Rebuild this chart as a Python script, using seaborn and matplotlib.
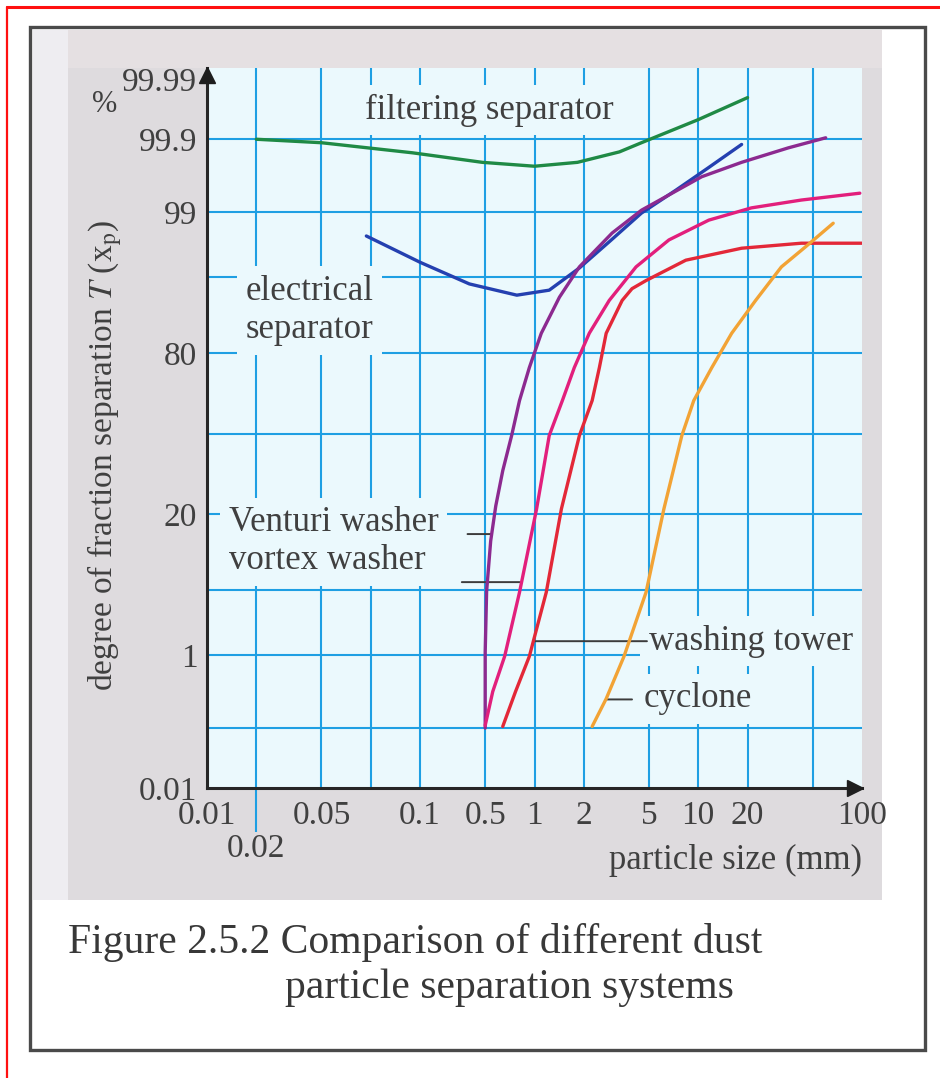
from statistics import NormalDist

import numpy as np
import pandas as pd
import seaborn as sns
import matplotlib.pyplot as plt
from matplotlib.patches import Rectangle
from matplotlib.lines import Line2D
from matplotlib.ticker import NullLocator

sns.set_theme(style="white")
plt.rcParams["font.family"] = ["Liberation Serif", "DejaVu Serif"]
plt.rcParams["mathtext.fontset"] = "stix"

# particle size (mm) and degree of separation (%)
size_filter = [0.02, 0.05, 0.18, 0.48, 1.0, 1.83, 3.3, 4.5, 10.0, 20.0]
sep_filter = [99.90, 99.887, 99.84, 99.78, 99.75, 99.78, 99.845, 99.887, 99.951, 99.979]

size_electric = [0.094, 0.2, 0.4, 0.78, 1.23, 1.88, 2.86, 4.5, 7.3, 11.6, 18.4]
sep_electric = [98.1, 96.4, 94.2, 92.7, 93.4, 95.9, 97.8, 98.97, 99.47, 99.74, 99.88]

size_venturi = [0.5, 0.5, 0.51, 0.54, 0.58, 0.64, 0.725, 0.81, 0.93, 1.1, 1.42, 1.88,
                2.98, 4.5, 10.5, 18.4, 35.5, 60.0]
sep_venturi = [0.1, 1.1, 4.9, 13.0, 22.4, 34.9, 49.2, 63.6, 75.6, 85.4, 92.4, 96.0,
               98.24, 99.05, 99.65, 99.78, 99.865, 99.905]

size_vortex = [0.5, 0.556, 0.657, 0.81, 1.03, 1.23, 1.48, 1.75, 2.16, 2.86, 4.17, 6.62,
               11.6, 21.1, 42.6, 97.0]
sep_vortex = [0.11, 0.34, 0.97, 4.8, 21.5, 49.2, 63.6, 75.6, 85.4, 91.9, 96.0, 97.9,
              98.75, 99.11, 99.29, 99.42]

size_tower = [0.64, 0.766, 0.93, 1.18, 1.46, 1.88, 2.25, 2.49, 2.74, 3.43, 3.94, 4.8,
              8.4, 18.4, 42.6, 100.0]
sep_tower = [0.106, 0.34, 0.97, 4.8, 21.5, 49.2, 63.6, 75.6, 85.4, 91.9, 93.6, 94.6,
             96.57, 97.42, 97.72, 97.72]

size_cyclone = [2.25, 2.74, 3.52, 4.8, 6.17, 7.94, 9.39, 12.1, 16.0, 22.4, 32.2, 45.0, 66.7]
sep_cyclone = [0.106, 0.27, 0.97, 4.8, 21.5, 49.2, 63.6, 75.6, 85.4, 91.9, 96.0, 97.49, 98.64]

systems = ["filtering", "electrical", "venturi", "vortex", "tower", "cyclone"]
colors = ["#1f8a45", "#2440b0", "#8c2a90", "#e21f7c", "#e32838", "#f2a335"]

grid_sizes = [0.02, 0.05, 0.1, 0.2, 0.5, 1, 2, 5, 10, 20, 50]
grid_seps = [0.1, 1, 5, 20, 50, 80, 95, 99, 99.9]

xtick_pos = [0.01, 0.05, 0.2, 0.5, 1, 2, 5, 10, 20, 100]
xtick_lab = ["0.01", "0.05", "0.1", "0.5", "1", "2", "5", "10", "20", "100"]
ytick_pos = [0.01, 1, 20, 80, 99, 99.9, 99.99]
ytick_lab = ["0.01", "1", "20", "80", "99", "99.9", "99.99"]

label_text = ["filtering separator", "electrical\nseparator",
              "Venturi washer\nvortex washer", "washing tower", "cyclone"]
label_x = [0.0926, 0.01726, 0.0136, 5.0, 4.66]
label_y = [99.966, 90.2, 12.8, 1.47, 0.27]

leader_x0 = [0.39, 0.36, 1.0, 2.74]
leader_x1 = [0.55, 0.81, 4.86, 3.94]
leader_y = [14.6, 5.96, 1.47, 0.264]

sizes = [size_filter, size_electric, size_venturi, size_vortex, size_tower, size_cyclone]
seps = [sep_filter, sep_electric, sep_venturi, sep_vortex, sep_tower, sep_cyclone]
df = pd.concat([pd.DataFrame({"size": s, "sep": p, "system": name})
                for s, p, name in zip(sizes, seps, systems)], ignore_index=True)

_nd = NormalDist()
_ppf = np.vectorize(_nd.inv_cdf, otypes=[float])
_cdf = np.vectorize(_nd.cdf, otypes=[float])


def probit(p):
    p = np.clip(np.asarray(p, dtype=float), 1e-7, 100 - 1e-7)
    return _ppf(p / 100.0)


def probit_inv(z):
    return _cdf(np.asarray(z, dtype=float)) * 100.0


W, H = 940, 1078
grid_blue = "#1e9fe3"
axis_bg = "#ebf9fd"
text_col = "#404040"

fig = plt.figure(figsize=(W / 100, H / 100), dpi=100)
fig.patch.set_facecolor("white")

# page decoration: red frame edge, black box, grey panel
fig.add_artist(Line2D([7 / W, 1], [1 - 7 / H, 1 - 7 / H], color="#ff1010", lw=2.2))
fig.add_artist(Line2D([7 / W, 7 / W], [0, 1 - 7 / H], color="#ff1010", lw=1.6))
fig.patches.append(Rectangle((33 / W, 1 - 900 / H), 35 / W, 870 / H,
                             transform=fig.transFigure, fc="#eeedf1", ec="none", zorder=-2))
fig.patches.append(Rectangle((68 / W, 1 - 900 / H), 814 / W, 870 / H,
                             transform=fig.transFigure, fc="#dedbde", ec="none", zorder=-2))
fig.patches.append(Rectangle((68 / W, 1 - 68 / H), 814 / W, 38 / H,
                             transform=fig.transFigure, fc="#e5e0e2", ec="none", zorder=-2))
fig.patches.append(Rectangle((30 / W, 1 - 1050 / H), 895 / W, 1023 / H,
                             transform=fig.transFigure, fill=False, ec="#4a4a4a",
                             lw=2.4, zorder=-1))

ax = fig.add_axes([207 / W, 1 - 788 / H, (862 - 207) / W, (788 - 68) / H])
ax.set_zorder(2)
ax.set_facecolor(axis_bg)

sns.lineplot(data=df, x="size", y="sep", hue="system", palette=dict(zip(systems, colors)),
             sort=False, estimator=None, lw=2.4, legend=False, ax=ax, zorder=3)

ax.set_xscale("log")
ax.set_yscale("function", functions=(probit, probit_inv))
ax.set_xlim(0.01, 100)
ax.set_ylim(0.01, 99.9938)

for v in grid_sizes:
    ax.axvline(v, color=grid_blue, lw=1.5, zorder=1)
for p in grid_seps:
    ax.axhline(p, color=grid_blue, lw=1.5, zorder=1)

for s, x, y in zip(label_text, label_x, label_y):
    ax.text(x, y, s, ha="left", va="center", fontsize=25, color=text_col,
            linespacing=1.2, zorder=2.5,
            bbox=dict(boxstyle="square,pad=0.25", fc=axis_bg, ec="none"))

for x0, x1, y in zip(leader_x0, leader_x1, leader_y):
    ax.annotate("", xy=(x1, y), xytext=(x0, y),
                arrowprops=dict(arrowstyle="-", color="#3c3c3c", lw=1.4,
                                shrinkA=0, shrinkB=0), zorder=2.6)

ax.set_xticks(xtick_pos, labels=xtick_lab)
ax.set_xticks([0.02], labels=["0.02"], minor=True)
ax.set_yticks(ytick_pos, labels=ytick_lab)
ax.yaxis.set_minor_locator(NullLocator())
ax.tick_params(axis="both", which="major", length=0, labelsize=24, labelcolor=text_col)
ax.tick_params(axis="x", which="major", pad=9)
ax.tick_params(axis="y", which="major", pad=7)
ax.tick_params(axis="x", which="minor", bottom=True, length=32, width=1.5,
               color=grid_blue, direction="out", pad=1, labelsize=24,
               labelcolor=text_col)

for side in ["top", "right"]:
    ax.spines[side].set_visible(False)
for side in ["left", "bottom"]:
    ax.spines[side].set_color("#262626")
    ax.spines[side].set_linewidth(2.2)
    ax.spines[side].set_zorder(4)

ax.plot([0], [0.99], marker="^", ms=11, color="#1e1e1e", transform=ax.transAxes,
        clip_on=False, zorder=5)
ax.plot([0.99], [0], marker=">", ms=11, color="#1e1e1e", transform=ax.transAxes,
        clip_on=False, zorder=5)

ax.set_ylabel(r"degree of fraction separation $T$ (x$_{\mathrm{p}}$)",
              fontsize=24, color=text_col)
ax.yaxis.set_label_coords(-0.156, 0.4625)
ax.yaxis.label.set_va("center")
ax.text(-0.156, 0.949, "%", transform=ax.transAxes, ha="center", va="center",
        fontsize=22, color=text_col)

ax.set_xlabel("particle size (mm)", fontsize=25, color=text_col)
ax.xaxis.set_label_coords(1.0, -0.1)
ax.xaxis.label.set_ha("right")
ax.xaxis.label.set_va("center")

fig.text(68 / W, 1 - 942 / H, "Figure 2.5.2 Comparison of different dust",
         fontsize=30, ha="left", va="center", color="#383838")
fig.text(285 / W, 1 - 988 / H, "particle separation systems",
         fontsize=30, ha="left", va="center", color="#383838")

fig.savefig("out.png", dpi=100)
